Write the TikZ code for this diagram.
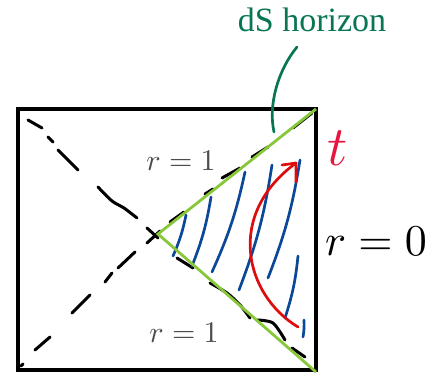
\documentclass[tikz,border=0pt]{standalone}
\usepackage{fontspec}
\newfontfamily\labelfont{Liberation Serif}
\usepackage{xcolor}
\usepackage{tikz}
\usetikzlibrary{arrows.meta, positioning}
\definecolor{horizongreen}{RGB}{136, 198, 58}
\definecolor{labelgreen}{RGB}{8, 118, 84}
\definecolor{stripeblue}{RGB}{12, 72, 152}
\definecolor{flowred}{RGB}{222, 12, 12}
\definecolor{timered}{RGB}{232, 22, 62}

\begin{document}
\begin{tikzpicture}[x=1pt, y=-1pt,
    frame/.style={draw=black, line width=3.5pt},
    horizon/.style={draw=horizongreen, line width=2.8pt},
    ink/.style={draw=black, line width=3pt, line cap=round, line join=round},
    stripe/.style={draw=stripeblue, line width=2.7pt, line cap=round},
    flow/.style={draw=flowred, line width=2.7pt, line cap=round, line join=round},
    radius/.style={text=black!70, scale=3}
]
    \useasboundingbox (0,0) rectangle (439,373);

    \draw[frame] (18,109) rectangle (316,370);
    \coordinate (tip) at (158,234);
    \coordinate (ne) at (316,109);
    \coordinate (se) at (316,372);

    \foreach \p/\q in {{28,120}/{42,128}, {48,137}/{53,142}, {58,150}/{78,170},
                       {147,228}/{158,238}, {21,366}/{23,364}, {35,350}/{50,337},
                       {72,313}/{90,295}, {105,282}/{112,273}, {118,268}/{135,252},
                       {147,243}/{160,231}, {170,222}/{184,212}, {205,194}/{213,189},
                       {222,178}/{240,168}, {252,157}/{268,147}, {293,128}/{312,113},
                       {177,258}/{193,268}, {292,348}/{305,357}}
        \draw[ink] (\p) -- (\q);
    \draw[ink] plot[smooth] coordinates {(98,187) (112,201) (124,208) (137,218)};
    \draw[ink] plot[smooth] coordinates {(210,283) (227,293) (240,305) (250,318)};
    \draw[ink] plot[smooth] coordinates {(257,320) (273,323) (285,340)};

    \foreach \p/\q in {{173,256}/{186,215}, {192,266}/{211,197}, {212,272}/{245,172},
                       {239,290}/{272,165}, {268,278}/{300,160}, {285,318}/{298,256},
                       {303,337}/{304,320}}
        \draw[stripe] (\p) to[bend right=6] (\q);

    \coordinate (flowstart) at (298,327);
    \coordinate (flowtip) at (296,163);
    \draw[flow] (flowstart) .. controls (245,295) and (225,215) .. (flowtip);
    \draw[flow] (282,165) -- (flowtip) -- (296,182);

    \draw[horizon] (ne) -- (tip) -- (se);

    \node[radius] (rtop) at (181,161) {$r=1$};
    \node[radius] (rbottom) at (184,333) {$r=1$};
    \node[scale=4.4] (rzero) at (376,241) {$r=0$};
    \node[text=timered, scale=5.6] (time) at (338,148) {$t$};
    \node[text=labelgreen, font=\labelfont\fontsize{34}{40}\selectfont] (dslabel) at (312,20) {dS horizon};
    \coordinate (pointer) at (274,132);
    \draw[draw=labelgreen, line width=2.7pt, line cap=round] (297,47) .. controls (278,70) and (268,105) .. (pointer);
\end{tikzpicture}
\end{document}
